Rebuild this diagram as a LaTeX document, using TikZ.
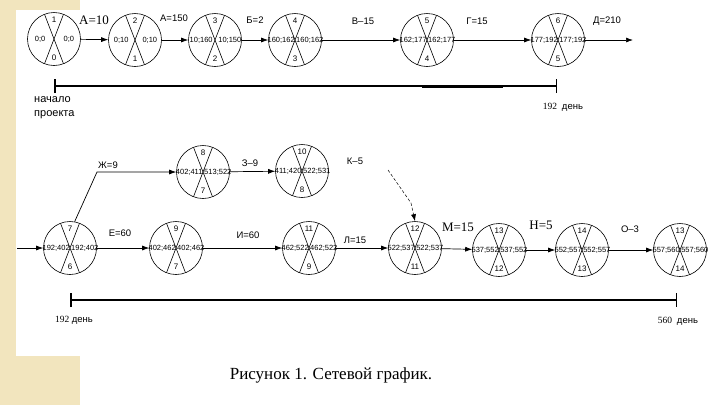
\documentclass[tikz,border=0pt]{standalone}
\usepackage{fontspec}
\setmainfont{Liberation Serif}
\setsansfont{Liberation Sans}
\usepackage{tikz}
\usetikzlibrary{arrows.meta}
\definecolor{SlideBeige}{RGB}{242,229,190}

\newcommand{\netevent}[6]{%
    \node[evt] (#1) at (#2) {};
    \node[evtnum] (#1-t) at ([yshift=-8pt]#1.north) {#3};
    \node[evtnum] (#1-b) at ([yshift=8pt]#1.south) {#4};
    \node[evttime] (#1-l) at ([xshift=13pt]#1.west) {#5};
    \node[evttime] (#1-r) at ([xshift=-12pt]#1.east) {#6};
}

\begin{document}
\begin{tikzpicture}[
    x=1pt, y=-1pt,
    evt/.style={
        circle,
        draw,
        line width=0.6pt,
        minimum size=53pt,
        inner sep=0pt,
        path picture={
            \draw[line width=0.6pt]
                ([shift={(69:30pt)}]path picture bounding box.center)
                -- ([shift={(249:30pt)}]path picture bounding box.center);
            \draw[line width=0.6pt]
                ([shift={(111:30pt)}]path picture bounding box.center)
                -- ([shift={(291:30pt)}]path picture bounding box.center);
        }
    },
    evtnum/.style={
        inner sep=0pt,
        font=\sffamily\fontsize{8}{9}\selectfont
    },
    evttime/.style={
        inner sep=0pt,
        font=\sffamily\fontsize{7.5}{9}\selectfont
    },
    lbl/.style={
        inner sep=1pt,
        font=\sffamily\fontsize{9.5}{11}\selectfont
    },
    slbl/.style={
        inner sep=1pt,
        font=\rmfamily\fontsize{13}{15}\selectfont
    },
    arrow/.style={
        -{Latex[length=7pt,width=5pt]},
        line width=0.7pt
    },
    dashedarrow/.style={
        -{Latex[length=7pt,width=5pt]},
        line width=0.5pt,
        densely dashed
    },
    span/.style={
        {Bar[width=14pt]}-{Bar[width=14pt]},
        line width=1.5pt
    }
]

\useasboundingbox (0,0) rectangle (720,405);
\fill[white] (0,0) rectangle (720,405);
\fill[SlideBeige] (0,0) rectangle (16,405);
\fill[SlideBeige] (0,0) rectangle (80,10);
\fill[SlideBeige] (0,356) rectangle (80,405);


\netevent{e1}{54,39}{1}{0}{0;0}{0;0}
\netevent{e2}{135,40}{2}{1}{0;10}{0;10}
\netevent{e3}{215,40}{3}{2}{10;160}{10;150}
\netevent{e4}{295,40}{4}{3}{160;162}{160;162}
\netevent{e5}{427,40}{5}{4}{162;177}{162;177}
\netevent{e6}{558,40}{6}{5}{177;192}{177;192}

\coordinate (dend) at (633,40);


\netevent{e7}{70,248}{7}{6}{192;402}{192;402}
\netevent{e8}{203,172}{8}{7}{402;411}{513;522}
\netevent{e10}{302,171}{10}{8}{411;420}{522;531}
\netevent{e9}{176,248}{9}{7}{402;462}{402;462}
\netevent{e11}{309,248}{11}{9}{462;522}{462;522}
\netevent{e12}{415,248}{12}{11}{522;537}{522;537}
\netevent{e13}{499,250}{13}{12}{537;552}{537;552}
\netevent{e14}{582,250}{14}{13}{552;557}{552;557}
\netevent{e15}{680,250}{13}{14}{557;560}{557;560}

\coordinate (estart) at (17,248);
\coordinate (zhbend) at (97,172);
\coordinate (kstart) at (388,170);
\coordinate (kbend) at (411,203);


\node[slbl] (la) at (94,20) {А=10};
\node[lbl] (la2) at (174,18) {А=150};
\node[lbl] (lb) at (255,20) {Б=2};
\node[lbl] (lv) at (363,21) {В–15};
\node[lbl] (lg) at (477,21) {Г=15};
\node[lbl] (ld) at (607,21) {Д=210};

\node[lbl] (lzh) at (108,165) {Ж=9};
\node[lbl] (lz) at (250,163) {З–9};
\node[lbl] (lk) at (355,161) {К–5};

\node[lbl] (le) at (120,233) {Е=60};
\node[lbl] (li) at (248,235) {И=60};
\node[lbl] (ll) at (355,240) {Л=15};
\node[slbl] (lm) at (458,227) {М=15};
\node[slbl] (ln) at (541,225) {Н=5};
\node[lbl] (lo) at (630,229) {О–3};


\draw[arrow] (e1) -- (e2);
\draw[arrow] (e2) -- (e3);
\draw[arrow] (e3) -- (e4);
\draw[arrow] (e4) -- (e5);
\draw[arrow] (e5) -- (e6);
\draw[arrow] (e6) -- (dend);

\draw[arrow] (estart) -- (e7);
\draw[arrow] (e7) -- (e9);
\draw[arrow] (e9) -- (e11);
\draw[arrow] (e11) -- (e12);
\draw[arrow] (e12) -- (e13);
\draw[arrow] (e13) -- (e14);
\draw[arrow] (e14) -- (e15);

\draw[arrow]
    (e7.80)
    -- (zhbend)
    -- (e8.west);
\draw[arrow] (e8) -- (e10);

\draw[dashedarrow]
    (kstart)
    -- (kbend)
    -- (e12.north);


\coordinate (t1a) at (54,86);
\coordinate (t1b) at (557,86);
\coordinate (t1c) at (422,86);
\coordinate (t1d) at (503,86);
\draw[span] (t1a) -- (t1b);
\draw[line width=3pt] (t1c) -- (t1d);

\node[lbl, anchor=west, font=\sffamily\fontsize{11}{13}\selectfont] (nach) at (33,100) {начало};
\node[lbl, anchor=west, font=\sffamily\fontsize{11}{13}\selectfont] (proj) at (33,115) {проекта};
\node[lbl] (d192) at (563,107) {\rmfamily 192\ \ \sffamily день};

\coordinate (t2a) at (70,300);
\coordinate (t2b) at (677,300);
\draw[span] (t2a) -- (t2b);

\node[lbl] (d192b) at (74,320) {\rmfamily 192\ \sffamily день};
\node[lbl] (d560) at (678,321) {\rmfamily 560\ \ \sffamily день};


\node[font=\rmfamily\fontsize{17}{20}\selectfont] (cap) at (331,375)
    {Рисунок 1. Сетевой график.};

\end{tikzpicture}
\end{document}
